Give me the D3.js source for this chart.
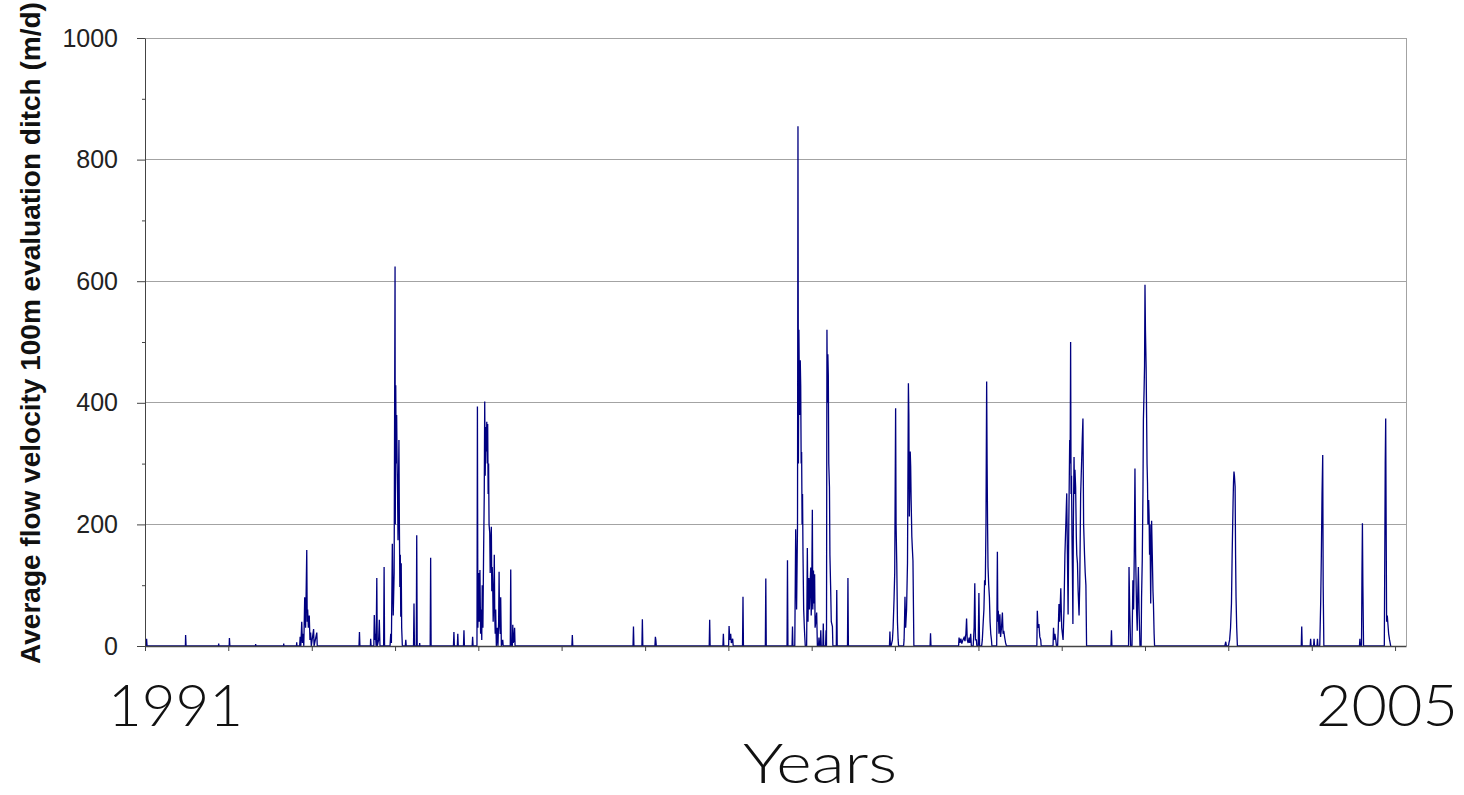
<!DOCTYPE html>
<html>
<head>
<meta charset="utf-8">
<script src="https://cdn.jsdelivr.net/npm/d3@7"></script>
<style>
  html, body { margin: 0; padding: 0; background: #fff; }
  svg { display: block; }
</style>
</head>
<body>
<svg id="chart" width="1464" height="795"></svg>
<script>
// ---- DATA (day = days since 1991-01-01, value = velocity in m/d) ----
const startDate = "1991-01-01";
const yTickValues = [0, 200, 400, 600, 800, 1000];
const yMinorTicks = [100, 300, 500, 700, 900];
const yearLabels = ["1991", "2005"];
const yTitle = "Average flow velocity 100m evaluation ditch (m/d)";
const xTitle = "Years";

const p1991_92 = [[6,0],[7,12],[9,0],[177,0],[178,18],[180,0],[322,0],[323,4],[324,0],[369,0],[370,13],[372,0],
  [484,0],[485,3],[486,0],[607,0],[608,4],[609,0],[664,0],[665,6],[666,0]];
const p1992_93 = [[678,0],[680,15],[683,0],[687,40],[690,5],[693,20],[696,0],[700,80],[704,30],[709,158],[711,40],
  [713,60],[716,30],[720,50],[723,10],[726,22],[729,0],[739,28],[741,0],[753,22],[755,0]];
const p1993 = [[938,0],[940,23],[942,0],[988,0],[989,12],[991,0],[1003,0],[1005,51],[1008,10],[1010,20],[1013,0],
  [1016,112],[1018,0],[1024,10],[1027,43],[1030,0],[1046,0],[1048,130],[1050,0],[1074,0],[1077,20],[1080,5],
  [1084,168],[1088,50],[1092,120],[1096,624],[1097,200],[1099,429],[1101,300],[1103,380],[1105,301],[1107,250],
  [1109,174],[1111,260],[1113,339],[1115,200],[1117,97],[1119,150],[1121,48],[1123,136],[1125,30],[1128,0],
  [1141,0],[1143,10],[1145,0],[1177,0],[1179,70],[1181,0],[1189,0],[1191,182],[1193,0],[1203,0],[1204,5],[1205,0],
  [1250,0],[1252,145],[1254,0]];
const p1994 = [[1352,0],[1354,23],[1356,0],[1369,0],[1371,20],[1373,0],[1396,0],[1398,26],[1400,0],[1434,0],
  [1436,15],[1438,0],[1455,0],[1457,394],[1459,30],[1461,80],[1463,120],[1465,40],[1468,125],[1471,20],[1474,60],
  [1476,10],[1478,100],[1481,30],[1484,150],[1487,250],[1489,402],[1491,280],[1494,360],[1496,320],[1498,369],
  [1500,300],[1502,365],[1504,250],[1506,300],[1508,200],[1511,186],[1513,120],[1515,160],[1518,196],[1520,90],
  [1522,130],[1524,100],[1526,40],[1529,80],[1531,150],[1533,50],[1535,20],[1537,60],[1540,0],[1544,30],[1547,0],
  [1550,40],[1552,122],[1554,40],[1557,20],[1559,80],[1562,0],[1568,10],[1570,0],[1601,0],[1603,126],[1605,0],
  [1610,0],[1612,35],[1614,5],[1617,10],[1620,30],[1622,0]];
const p1995_98 = [[1871,0],[1873,18],[1875,0],[2139,0],[2141,32],[2143,0],[2178,0],[2180,44],[2182,0],[2235,0],
  [2237,15],[2239,10],[2241,0],[2473,0],[2475,43],[2477,0],[2533,0],[2535,20],[2537,0],[2558,0],[2560,33],
  [2563,10],[2567,20],[2570,5],[2576,12],[2578,0],[2619,0],[2621,81],[2623,0],[2719,0],[2721,111],[2723,0]];
const p1998_99 = [[2814,0],[2816,141],[2818,0],[2836,0],[2838,32],[2840,0],[2848,0],[2852,192],[2856,60],
  [2860,200],[2862,855],[2864,300],[2866,520],[2868,430],[2870,380],[2872,470],[2874,428],[2876,300],[2878,319],
  [2880,200],[2882,250],[2884,152],[2887,60],[2890,30],[2892,14],[2894,0],[2900,0],[2903,161],[2906,40],[2908,90],
  [2910,112],[2912,60],[2915,100],[2918,129],[2920,50],[2922,80],[2925,224],[2927,60],[2930,124],[2932,70],
  [2935,118],[2937,30],[2940,40],[2944,55],[2947,0],[2952,0],[2954,14],[2956,0],[2960,0],[2962,26],[2964,0],
  [2971,0],[2973,37],[2975,0],[2983,0],[2985,26],[2987,0],[2989,520],[2991,400],[2993,480],[2995,445],[2997,300],
  [3000,262],[3002,150],[3005,100],[3008,40],[3013,32],[3015,0],[3030,0],[3032,92],[3034,0],[3079,0],[3081,112],
  [3083,0]];
const p1999_2000 = [[3263,0],[3265,24],[3267,0],[3270,0],[3276,10],[3279,30],[3283,76],[3286,120],[3290,391],
  [3292,200],[3295,136],[3298,40],[3301,10],[3303,0],[3325,0],[3327,10],[3329,40],[3331,81],[3334,30],[3338,60],
  [3342,136],[3346,432],[3348,380],[3350,213],[3352,260],[3354,320],[3356,295],[3358,240],[3361,180],[3363,163],
  [3366,140],[3370,0],[3441,0],[3443,21],[3445,0],
  [3566,0],[3568,14],[3572,5],[3576,12],[3580,4],[3585,10],[3590,14],[3594,8],[3598,20],[3601,45],[3604,10],
  [3608,5],[3612,14],[3615,5],[3619,20],[3622,0],[3630,0],[3634,30],[3637,103],[3640,10],[3644,10],[3646,0],
  [3652,0],[3655,87],[3658,0],[3667,0],[3670,10],[3674,40],[3677,60],[3680,108],[3683,100],[3686,200],[3689,435],
  [3691,300],[3693,200],[3695,130],[3698,100],[3701,81],[3704,40],[3707,20],[3710,10],[3712,0],[3733,0],[3736,155],
  [3738,40],[3740,58],[3743,20],[3747,52],[3750,15],[3754,30],[3758,55],[3761,20],[3764,25],[3768,14],[3772,5],
  [3776,0]];
const p2001 = [[3909,0],[3911,58],[3914,30],[3918,36],[3922,15],[3926,10],[3928,0],[3980,0],[3982,30],[3985,10],
  [3988,20],[3992,10],[3995,0],[4000,0],[4003,30],[4006,69],[4009,40],[4014,95],[4018,30],[4024,10],[4028,60],
  [4032,150],[4036,200],[4040,251],[4043,150],[4046,52],[4049,200],[4053,339],[4055,300],[4057,500],[4059,250],
  [4061,280],[4063,180],[4065,120],[4067,36],[4069,200],[4072,311],[4074,250],[4076,290],[4079,262],[4082,180],
  [4084,150],[4087,136],[4090,90],[4094,50],[4097,100],[4101,249],[4105,300],[4108,340],[4111,374],[4114,200],
  [4118,150],[4121,120],[4124,100],[4127,0],[4234,0],[4236,26],[4238,0]];
const p2002 = [[4311,0],[4313,130],[4316,60],[4320,0],[4326,0],[4330,108],[4333,60],[4336,150],[4339,292],
  [4342,150],[4346,60],[4349,25],[4351,80],[4354,130],[4357,60],[4361,0],[4366,0],[4368,80],[4371,141],[4374,250],
  [4376,372],[4379,420],[4381,460],[4383,594],[4385,520],[4388,459],[4390,380],[4392,300],[4394,268],[4396,200],
  [4399,240],[4401,213],[4403,150],[4405,200],[4408,70],[4410,150],[4412,206],[4415,150],[4418,90],[4420,70],
  [4423,20],[4425,0]];
const p2003 = [[4733,0],[4737,7],[4740,0],[4749,0],[4751,5],[4754,10],[4758,30],[4762,70],[4765,150],[4769,235],
  [4771,270],[4773,287],[4775,280],[4778,262],[4780,150],[4782,81],[4785,30],[4788,0]];
const p2004_05 = [[5068,0],[5070,32],[5072,0],[5107,0],[5109,12],[5111,0],[5122,0],[5124,12],[5126,0],[5137,0],
  [5139,12],[5141,0],[5149,0],[5153,70],[5156,150],[5159,250],[5162,314],[5164,100],[5167,0],
  [5323,0],[5325,12],[5327,0],[5332,0],[5334,120],[5336,202],[5338,100],[5341,0],
  [5432,0],[5434,150],[5436,300],[5438,374],[5440,200],[5442,40],[5445,50],[5448,35],[5451,20],[5455,10],[5460,0]];

// ---- CHART ----
const svg = d3.select("#chart");
const plotL = 145, plotR = 1406, plotT = 38, plotB = 646;
const t0 = new Date(startDate + "T00:00:00Z");
const dayToDate = d => d3.utcDay.offset(t0, d);
const tEnd = d3.utcDay.offset(t0, 5527);

const x = d3.scaleUtc().domain([t0, tEnd]).range([plotL, plotR]);
const y = d3.scaleLinear().domain([0, 1000]).range([plotB, plotT]);

// gridlines
svg.append("g").selectAll("line").data(yTickValues.filter(v => v > 0)).join("line")
  .attr("x1", plotL).attr("x2", plotR)
  .attr("y1", d => y(d)).attr("y2", d => y(d))
  .attr("stroke", "#a3a3a3").attr("stroke-width", 1).attr("shape-rendering", "crispEdges");
// right border
svg.append("line").attr("x1", plotR).attr("x2", plotR).attr("y1", plotT).attr("y2", plotB)
  .attr("stroke", "#a3a3a3").attr("shape-rendering", "crispEdges");

// series
const series = [].concat(p1991_92, p1992_93, p1993, p1994, p1995_98, p1998_99, p1999_2000, p2001, p2002, p2003, p2004_05)
  .map(([d, v]) => ({ date: dayToDate(d), v }));
const line = d3.line().x(d => x(d.date)).y(d => y(d.v));
svg.append("path").datum(series)
  .attr("d", line)
  .attr("fill", "none")
  .attr("stroke", "#000080")
  .attr("stroke-width", 1.3)
  .attr("stroke-linejoin", "miter");

// y axis
const yAxis = svg.append("g").attr("transform", `translate(${plotL},0)`)
  .call(d3.axisLeft(y).tickValues(yTickValues).tickFormat(d3.format("d"))
    .tickSize(8).tickSizeOuter(0).tickPadding(19));
yAxis.select(".domain").attr("stroke", "#444");
yAxis.selectAll(".tick line").attr("stroke", "#444");
yAxis.selectAll(".tick text").attr("font-family", "'Liberation Sans', Arial, sans-serif")
  .attr("font-size", 25).attr("fill", "#222");
svg.append("g").attr("transform", `translate(${plotL},0)`)
  .call(d3.axisLeft(y).tickValues(yMinorTicks).tickSize(3).tickFormat(""))
  .call(g => g.select(".domain").remove())
  .selectAll(".tick line").attr("stroke", "#444");

// x axis
const xAxis = svg.append("g").attr("transform", `translate(0,${plotB})`)
  .call(d3.axisBottom(x).ticks(d3.utcYear.every(1)).tickSize(5).tickSizeOuter(0).tickFormat(""));
xAxis.select(".domain").attr("stroke", "#444").attr("stroke-width", 1.3);
xAxis.selectAll(".tick line").attr("stroke", "#444");

// big year labels
const thin = "Lato, 'Open Sans', sans-serif";
svg.append("text").text(yearLabels[0]).attr("x", 108).attr("y", 726)
  .attr("textLength", 135).attr("lengthAdjust", "spacingAndGlyphs")
  .attr("font-family", thin).attr("font-weight", 300).attr("font-size", 57).attr("fill", "#111");
svg.append("text").text(yearLabels[1]).attr("x", 1316).attr("y", 726)
  .attr("textLength", 142).attr("lengthAdjust", "spacingAndGlyphs")
  .attr("font-family", thin).attr("font-weight", 300).attr("font-size", 57).attr("fill", "#111");
svg.append("text").text(xTitle).attr("x", 743).attr("y", 783)
  .attr("textLength", 154).attr("lengthAdjust", "spacingAndGlyphs")
  .attr("font-family", thin).attr("font-weight", 300).attr("font-size", 55).attr("fill", "#111");

// y title
svg.append("text").text(yTitle)
  .attr("transform", "translate(40,333) rotate(-90)")
  .attr("text-anchor", "middle")
  .attr("font-family", "'Liberation Sans', Arial, sans-serif")
  .attr("font-weight", "bold").attr("font-size", 28).attr("fill", "#111");
</script>
</body>
</html>
